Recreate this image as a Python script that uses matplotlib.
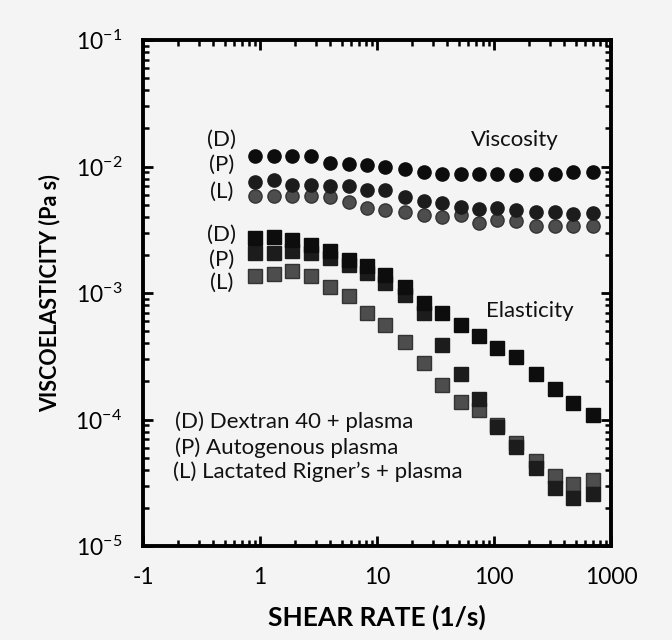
import matplotlib
matplotlib.use('Agg')
import matplotlib.pyplot as plt
from matplotlib.ticker import FixedLocator, LogLocator, NullFormatter

plt.rcParams['font.family'] = ['Lato', 'DejaVu Sans']
plt.rcParams['mathtext.fontset'] = 'custom'
plt.rcParams['mathtext.rm'] = 'Lato'
plt.rcParams['mathtext.it'] = 'Lato'

# shear rate (1/s)
shear_rate = [0.905, 1.32, 1.88, 2.74, 3.99, 5.81, 8.28, 11.8, 17.2, 25.1,
              35.8, 52.1, 74.3, 106, 154, 229, 334, 477, 708]

# viscosity (Pa s)
visc_D = [0.0120, 0.0120, 0.0120, 0.0122, 0.0107, 0.0104, 0.0102, 0.0100, 0.0095, 0.0090,
          0.0087, 0.0087, 0.0087, 0.0087, 0.0085, 0.0087, 0.0087, 0.0090, 0.0090]
visc_P = [0.0075, 0.0078, 0.0071, 0.0071, 0.0070, 0.0070, 0.0065, 0.0065, 0.0057, 0.0053,
          0.0051, 0.0048, 0.0046, 0.0047, 0.0045, 0.0044, 0.0044, 0.0042, 0.0043]
visc_L = [0.0058, 0.0058, 0.0058, 0.0058, 0.0057, 0.0052, 0.0047, 0.0045, 0.0044, 0.0041,
          0.0040, 0.0041, 0.0036, 0.0038, 0.0037, 0.0034, 0.0034, 0.0034, 0.0034]

# elasticity (Pa s)
elas_D = [2.72e-3, 2.77e-3, 2.63e-3, 2.40e-3, 2.15e-3, 1.83e-3, 1.64e-3, 1.40e-3, 1.12e-3, 8.4e-4,
          7.0e-4, 5.6e-4, 4.6e-4, 3.7e-4, 3.1e-4, 2.3e-4, 1.75e-4, 1.36e-4, 1.09e-4]
elas_P = [2.08e-3, 2.08e-3, 2.15e-3, 2.08e-3, 1.90e-3, 1.67e-3, 1.45e-3, 1.21e-3, 9.7e-4, 7.0e-4,
          3.9e-4, 2.3e-4, 1.44e-4, 8.7e-5, 6.1e-5, 4.1e-5, 2.9e-5, 2.4e-5, 2.6e-5]
elas_L = [1.37e-3, 1.42e-3, 1.50e-3, 1.37e-3, 1.12e-3, 9.4e-4, 7.0e-4, 5.6e-4, 4.1e-4, 2.8e-4,
          1.88e-4, 1.38e-4, 1.18e-4, 9.0e-5, 6.5e-5, 4.7e-5, 3.6e-5, 3.1e-5, 3.3e-5]

x_ticks = [0.1, 1, 10, 100, 1000]
x_ticklabels = ['-1', '1', '10', '100', '1000']
y_ticks = [1e-5, 1e-4, 1e-3, 1e-2, 1e-1]
y_ticklabels = [r'$10^{-5}$', r'$10^{-4}$', r'$10^{-3}$', r'$10^{-2}$', r'$10^{-1}$']

legend_lines = ['(D) Dextran 40 + plasma',
                '(P) Autogenous plasma',
                "(L) Lactated Rigner\u2019s + plasma"]

bg = '#f4f4f4'
c_D = '#0d0d0d'
c_P = '#1c1c1c'
c_L = '#4d4d4d'

fig = plt.figure(figsize=(6.72, 6.4), dpi=100, facecolor=bg)
ax = fig.add_axes([143/672, (640-546)/640, 468/672, 506/640], facecolor=bg)

# elasticity first (squares), then viscosity (circles)
ax.plot(shear_rate, elas_L, 's', color=c_L, mec='#333333', ms=10, mew=1)
ax.plot(shear_rate, elas_P, 's', color=c_P, mec=c_P, ms=10, mew=1)
ax.plot(shear_rate, elas_D, 's', color=c_D, mec=c_D, ms=10, mew=1)
ax.plot(shear_rate, visc_L, 'o', color=c_L, mec='#333333', ms=9.5, mew=1)
ax.plot(shear_rate, visc_P, 'o', color=c_P, mec=c_P, ms=9.5, mew=1)
ax.plot(shear_rate, visc_D, 'o', color=c_D, mec=c_D, ms=9.5, mew=1)

ax.set_xscale('log')
ax.set_yscale('log')
ax.set_xlim(0.1, 1000)
ax.set_ylim(1e-5, 1e-1)

ax.xaxis.set_major_locator(FixedLocator(x_ticks))
ax.set_xticklabels(x_ticklabels)
ax.xaxis.set_minor_locator(LogLocator(base=10, subs=range(2, 10)))
ax.xaxis.set_minor_formatter(NullFormatter())
ax.yaxis.set_major_locator(FixedLocator(y_ticks))
ax.set_yticklabels(y_ticklabels)
ax.yaxis.set_minor_locator(LogLocator(base=10, subs=range(2, 10)))
ax.yaxis.set_minor_formatter(NullFormatter())

ax.tick_params(which='both', direction='in', top=True, right=True, width=2, colors='black')
ax.tick_params(which='major', length=7, labelsize=16.5)
ax.tick_params(axis='x', which='major', pad=15)
ax.tick_params(axis='y', which='major', pad=15)
ax.tick_params(which='minor', length=4, width=1.8)
for s in ax.spines.values():
    s.set_linewidth(2.8)

ax.set_xlabel('SHEAR RATE (1/s)', fontsize=19, fontweight='bold', labelpad=12)
ax.set_ylabel('VISCOELASTICITY (Pa s)', fontsize=15.5, fontweight='bold', labelpad=11)

tk = dict(transform=ax.transAxes, fontsize=16, color='#111111', va='center')
for lab, yy in zip(['(D)', '(P)', '(L)'], [0.802, 0.753, 0.700]):
    ax.text(0.168, yy, lab, ha='center', **tk)
for lab, yy in zip(['(D)', '(P)', '(L)'], [0.615, 0.565, 0.520]):
    ax.text(0.168, yy, lab, ha='center', **tk)
ax.text(0.795, 0.802, 'Viscosity', ha='center', **tk)
ax.text(0.827, 0.464, 'Elasticity', ha='center', **tk)
for line, yy, xx in zip(legend_lines, [0.245, 0.194, 0.146], [0.068, 0.068, 0.064]):
    ax.text(xx, yy, line, ha='left', **tk)

fig.savefig('out.png', dpi=100, facecolor=bg)
